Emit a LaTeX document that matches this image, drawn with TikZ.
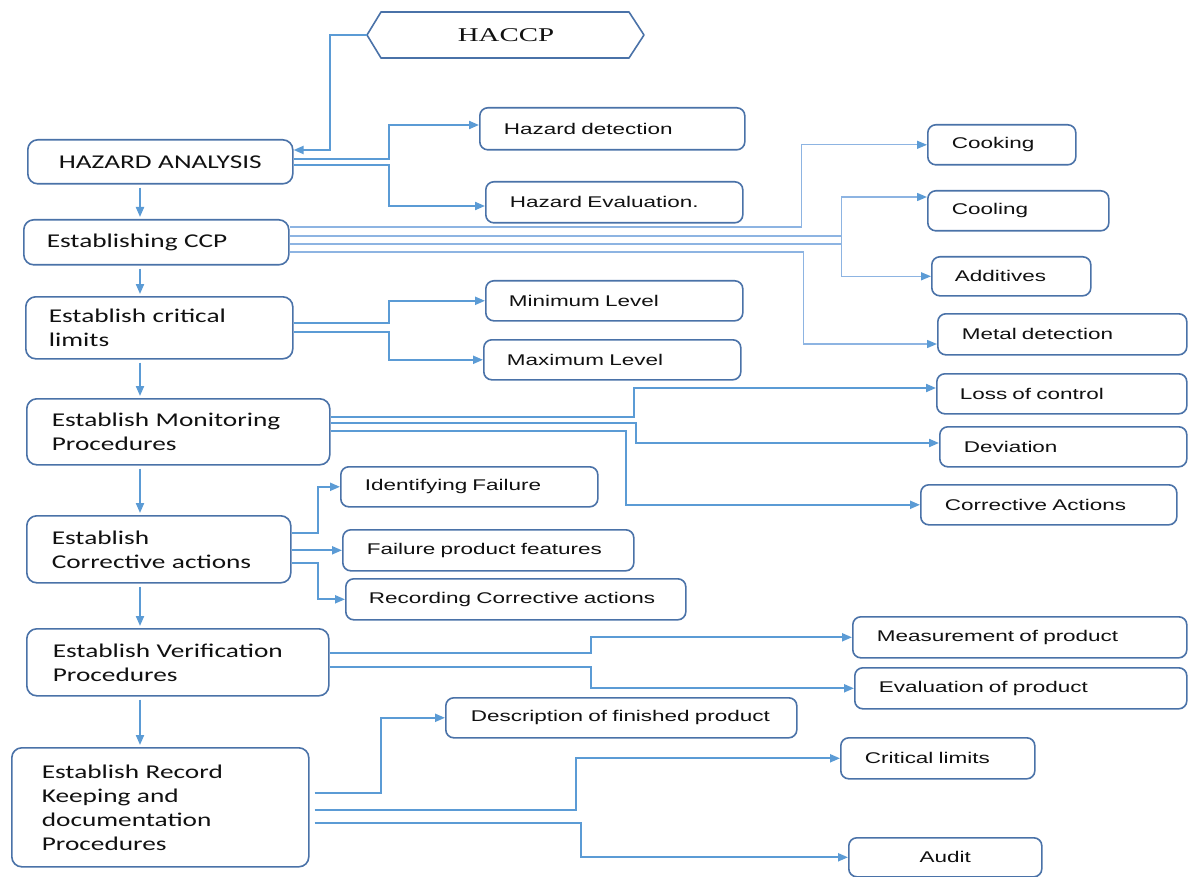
\documentclass[tikz,border=0pt]{standalone}
\usepackage{fontspec}
\usetikzlibrary{arrows.meta,calc}
\newfontfamily\lfont[FakeStretch=1.4]{Carlito}
\newfontfamily\rfont[FakeStretch=1.45]{Liberation Sans}
\newfontfamily\hfont[FakeStretch=1.48]{Liberation Serif}
\definecolor{bord}{HTML}{4A72A8}
\definecolor{conn}{HTML}{5B9BD5}
\definecolor{connl}{HTML}{8DB4E2}
\definecolor{txt}{HTML}{111111}
\tikzset{
  basebox/.style={draw=bord, line width=1.6pt, fill=white, text=txt, inner ysep=0pt, align=left},
  lbox/.style={basebox, rounded corners=10pt, font=\lfont\fontsize{19.5}{24}\selectfont},
  rbx/.style={basebox, rounded corners=8pt, font=\rfont\fontsize{15.5}{18}\selectfont},
  hexline/.style={draw=bord, line width=1.6pt, line join=round},
  tip/.style={-{Triangle[length=10pt,width=8pt,color=conn]}},
  arr/.style={draw=conn, line width=2pt, tip},
  lin/.style={draw=conn, line width=2pt},
  arrl/.style={draw=connl, line width=1.4pt, tip},
  linl/.style={draw=connl, line width=1.4pt},
  down/.style={arr, shorten <=3pt, shorten >=2pt}
}
\newcommand\hbx[8]{\pgfmathsetmacro\hbxtw{#5-2*#7}%
  \node[#1, anchor=north west, inner xsep=#7pt, text width=\hbxtw pt, minimum height=#6pt] (#2) at (#3,#4) {#8};}
\begin{document}
\begin{tikzpicture}[x=1pt,y=-1pt]
\fill[white] (0,0) rectangle (1188,877);
\useasboundingbox (0,0) rectangle (1188,877);

% HACCP hexagon
\coordinate (hx) at (367,35);
\draw[hexline] (hx) -- (381,12) -- (629,12) -- (644,35) -- (629,58) -- (381,58) -- cycle;
\node[font=\hfont\fontsize{19.5}{22}\selectfont, text=txt] (haccp) at (506,35) {HACCP};

% left column
\hbx{lbox, align=center}{ha}{27}{139}{265}{44}{25}{\mbox{HAZARD ANALYSIS}}
\hbx{lbox}{ccp}{23}{219}{265}{45}{23}{\mbox{Establishing CCP}}
\hbx{lbox}{cl}{25}{296}{267}{62}{23}{\mbox{Establish critical}\\\mbox{limits}}
\hbx{lbox}{mp}{26}{398}{303}{66}{25}{\mbox{Establish Monitoring}\\\mbox{Procedures}}
\hbx{lbox}{ca}{26}{515}{264}{67}{25}{\mbox{Establish}\\\mbox{Corrective actions}}
\hbx{lbox}{vp}{26}{628}{302}{67}{26}{\mbox{Establish Verification}\\\mbox{Procedures}}
\hbx{lbox}{rk}{11}{747}{297}{119}{30}{\mbox{Establish Record}\\\mbox{Keeping and}\\\mbox{documentation}\\\mbox{Procedures}}

% right boxes
\hbx{rbx}{hd}{479}{107}{265}{42}{24}{\mbox{Hazard detection}}
\hbx{rbx}{he}{485}{181}{257}{41}{24}{\mbox{Hazard Evaluation.}}
\hbx{rbx}{cook}{927}{124}{148}{40}{24}{\mbox{Cooking}}
\hbx{rbx}{cool}{927}{190}{181}{40}{24}{\mbox{Cooling}}
\hbx{rbx}{add}{931}{256}{159}{39}{23}{\mbox{Additives}}
\hbx{rbx}{metal}{937}{313}{249}{41}{24}{\mbox{Metal detection}}
\hbx{rbx}{min}{485}{280}{257}{40}{23}{\mbox{Minimum Level}}
\hbx{rbx}{max}{483}{339}{257}{40}{23}{\mbox{Maximum Level}}
\hbx{rbx}{loss}{936}{373}{250}{40}{23}{\mbox{Loss of control}}
\hbx{rbx}{dev}{939}{426}{247}{40}{24}{\mbox{Deviation}}
\hbx{rbx}{cact}{920}{484}{256}{40}{24}{\mbox{Corrective Actions}}
\hbx{rbx}{idf}{340}{466}{257}{40}{24}{\mbox{Identifying Failure}}
\hbx{rbx}{fpf}{342}{529}{291}{41}{24}{\mbox{Failure product features}}
\hbx{rbx}{rca}{345}{578}{340}{41}{23}{\mbox{Recording Corrective actions}}
\hbx{rbx}{meas}{852}{616}{334}{41}{24}{\mbox{Measurement of product}}
\hbx{rbx}{eval}{854}{667}{332}{41}{24}{\mbox{Evaluation of product}}
\hbx{rbx}{desc}{445}{697}{351}{40}{25}{\mbox{Description of finished product}}
\hbx{rbx}{crit}{840}{737}{194}{41}{24}{\mbox{Critical limits}}
\hbx{rbx, align=center}{audit}{848}{837}{193}{39}{24}{\mbox{Audit}}

% vertical flow
\coordinate (ax) at (140,0);
\draw[down] (ha.south -| ax) -- (ccp.north -| ax);
\draw[down] (ccp.south -| ax) -- (cl.north -| ax);
\draw[down] (cl.south -| ax) -- (mp.north -| ax);
\draw[down] (mp.south -| ax) -- (ca.north -| ax);
\draw[down] (ca.south -| ax) -- (vp.north -| ax);
\draw[down] (vp.south -| ax) -- (rk.north -| ax);

% HACCP -> hazard analysis
\draw[arr] (hx) -- ++(-37,0) |- ($(ha.north east)+(0,11)$);

% hazard analysis
\draw[arr] ($(ha.north east)+(0,20)$) -- ++(95,0) |- ($(hd.north west)+(0,18)$);
\draw[arr] ($(ha.north east)+(0,26)$) -- ++(95,0) |- ($(he.north west)+(0,25)$);

% CCP
\draw[arrl] ($(ccp.north east)+(0,8)$) -- ++(512,0) |- (cook.west);
\draw[linl] ($(ccp.north east)+(0,17)$) -- ++(552,0) coordinate (cj);
\draw[linl] ($(ccp.north east)+(0,25)$) -- ++(552,0);
\draw[arrl] (cj) |- ($(cool.north west)+(0,7)$);
\draw[arrl] (cj) |- (add.west);
\draw[arrl] ($(ccp.north east)+(0,33)$) -- ++(514,0) |- ($(metal.north west)+(0,31)$);

% critical limits
\draw[arr] ($(cl.north east)+(0,27)$) -- ++(95,0) |- (min.west);
\draw[arr] ($(cl.north east)+(0,36)$) -- ++(95,0) |- (max.west);

% monitoring
\draw[arr] ($(mp.north east)+(0,19)$) -- ++(303,0) |- ($(loss.north west)+(0,15)$);
\draw[arr] ($(mp.north east)+(0,25)$) -- ++(305,0) |- ($(dev.north west)+(0,17)$);
\draw[arr] ($(mp.north east)+(0,33)$) -- ++(295,0) |- (cact.west);

% corrective actions
\draw[arr] ($(ca.north east)+(0,18)$) -- ++(26,0) |- (idf.west);
\draw[arr] (ca.east |- fpf.west) -- (fpf.west);
\draw[arr] ($(ca.north east)+(0,48)$) -- ++(26,0) |- (rca.west);

% verification
\draw[arr] ($(vp.north east)+(0,25)$) -- ++(261,0) |- (meas.west);
\draw[arr] ($(vp.north east)+(0,39)$) -- ++(261,0) |- (eval.west);

% record keeping
\draw[arr] ($(rk.north east)+(5,46)$) -- ++(66,0) |- (desc.west);
\draw[arr] ($(rk.north east)+(5,63)$) -- ++(261,0) |- (crit.west);
\draw[arr] ($(rk.north east)+(5,76)$) -- ++(266,0) |- (audit.west);
\end{tikzpicture}
\end{document}
